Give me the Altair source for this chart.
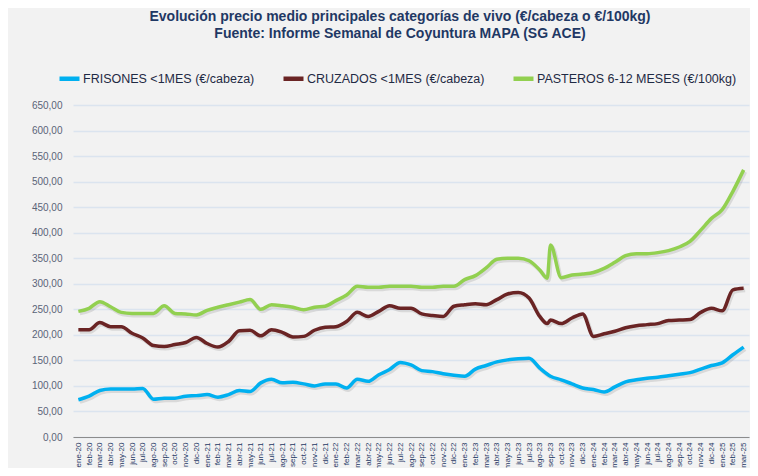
import altair as alt
import pandas as pd

meses = ["ene-20", "feb-20", "mar-20", "abr-20", "may-20", "jun-20", "jul-20", "ago-20", "sep-20", "oct-20", "nov-20", "dic-20",
         "ene-21", "feb-21", "mar-21", "abr-21", "may-21", "jun-21", "jul-21", "ago-21", "sep-21", "oct-21", "nov-21", "dic-21",
         "ene-22", "feb-22", "mar-22", "abr-22", "may-22", "jun-22", "jul-22", "ago-22", "sep-22", "oct-22", "nov-22", "dic-22",
         "ene-23", "feb-23", "mar-23", "abr-23", "may-23", "jun-23", "jul-23", "ago-23", "sep-23", "oct-23", "nov-23", "dic-23",
         "ene-24", "feb-24", "mar-24", "abr-24", "may-24", "jun-24", "jul-24", "ago-24", "sep-24", "oct-24", "nov-24", "dic-24",
         "ene-25", "feb-25", "mar-25"]

frisones = [73, 80, 91, 94, 94, 94, 95, 74, 76, 76, 80, 81, 83, 78, 83, 91,
            89, 106, 113, 106, 107, 104, 100, 104, 104, 96, 113, 109, 122, 132, 146,
            141, 130, 128, 124, 121, 119, 133, 140, 147, 151, 153, 154, 135, 119, 112,
            104, 96, 93, 88, 98, 108, 112, 115, 117, 120, 123, 126, 133, 140, 145, 161, 176]

cruzados = [210, 210, 224, 216, 216, 203, 194, 179, 177, 181, 185, 195, 183, 176, 187, 208,
            209, 198, 210, 205, 196, 197, 209, 215, 216, 226, 244, 236, 246, 257, 252,
            252, 241, 238, 236, 256, 259, 261, 259, 269, 280, 283, 272, 236, 229, 222,
            233, 241, 197, 202, 207, 214, 218, 220, 222, 228, 229, 230, 244, 252, 247, 288, 291]

pasteros = [246, 252, 265, 255, 244, 242, 242, 242, 257, 242, 241, 239, 248, 254, 259, 264,
            269, 250, 259, 257, 254, 249, 254, 256, 267, 278, 295, 293, 293, 295, 295,
            295, 293, 293, 295, 295, 308, 316, 331, 348, 350, 350, 345, 327, 376, 312,
            317, 319, 322, 330, 342, 355, 359, 359, 361, 365, 372, 383, 405, 428, 445, 481, 523]

# extra intermediate reading (late August 2023, before the spike)
extra_mes = [43.7]
extra_cruzados = [222]
extra_pasteros = [311]

series = ["FRISONES <1MES (€/cabeza)", "CRUZADOS <1MES (€/cabeza)", "PASTEROS 6-12 MESES (€/100kg)"]
colores = ["#00b0f0", "#6a2424", "#92d050"]

rows = []
for name, vals, ex in [(series[0], frisones, []), (series[1], cruzados, extra_cruzados), (series[2], pasteros, extra_pasteros)]:
    for i, v in enumerate(vals):
        rows.append({"serie": name, "mes": float(i), "valor": v})
    for xm, v in zip(extra_mes, ex):
        rows.append({"serie": name, "mes": xm, "valor": v})
df = pd.DataFrame(rows).sort_values(["serie", "mes"])

label_expr = "[" + ",".join("'" + m + "'" for m in meses) + "][datum.value]"

FONT = "Liberation Sans, Arial, sans-serif"
NAVY = "#1f3864"

x_enc = alt.X("mes:Q",
              scale=alt.Scale(domain=[-0.5, len(meses) - 0.5], nice=False, zero=False),
              axis=alt.Axis(values=list(range(len(meses))), labelExpr=label_expr, labelAngle=-90,
                            labelAlign="right", labelBaseline="middle", labelPadding=5,
                            ticks=False, grid=False, domain=True, domainColor="#8c8c8c",
                            domainWidth=1.2, labelFontSize=8, labelColor=NAVY, labelFont=FONT,
                            title=None, labelOverlap=False, labelFlush=False))
y_enc = alt.Y("valor:Q",
              scale=alt.Scale(domain=[0, 650], nice=False),
              axis=alt.Axis(values=list(range(0, 651, 50)),
                            labelExpr="replace(format(datum.value, '.2f'), '.', ',')",
                            ticks=False, domain=False, grid=True, gridColor="#dbe4ef", gridWidth=1.3,
                            labelFontSize=10, labelColor="#5a6478", labelFont=FONT, labelPadding=11,
                            title=None))

base = alt.Chart(df)

shadow = base.mark_line(strokeWidth=4, interpolate="monotone", color="#7f7f7f",
                        opacity=0.22, xOffset=1.5, yOffset=2).encode(
    x=x_enc, y=y_enc, detail="serie:N", order="mes:Q")

lines = base.mark_line(strokeWidth=3.5, interpolate="monotone").encode(
    x=x_enc, y=y_enc,
    color=alt.Color("serie:N",
                    scale=alt.Scale(domain=series, range=colores),
                    legend=alt.Legend(orient="none", legendX=-16, legendY=-39, direction="horizontal",
                                      title=None, symbolType="stroke", symbolStrokeWidth=4.5,
                                      symbolSize=400, labelFontSize=12.5, labelFont=FONT,
                                      labelColor="#1f2a44", labelLimit=400, columnPadding=19,
                                      labelOffset=1)),
    order="mes:Q",
)

chart = alt.layer(shadow, lines).properties(
    width=676,
    height=332,
    autosize=alt.AutoSizeParams(type="none"),
    padding={"left": 65, "top": 97, "right": 1, "bottom": 31},
    background="#f2f2f2",
    title=alt.TitleParams(
        text=["Evolución precio medio principales categorías de vivo (€/cabeza o €/100kg)",
              "Fuente: Informe Semanal de Coyuntura MAPA (SG ACE)"],
        anchor="middle", fontSize=14, font=FONT, fontWeight="bold", color=NAVY,
        lineHeight=17, offset=25, dx=-11),
).configure_view(stroke=None, fill="#f2f2f2")

chart.save("out.html", embed_options={"renderer": "svg", "actions": False})
